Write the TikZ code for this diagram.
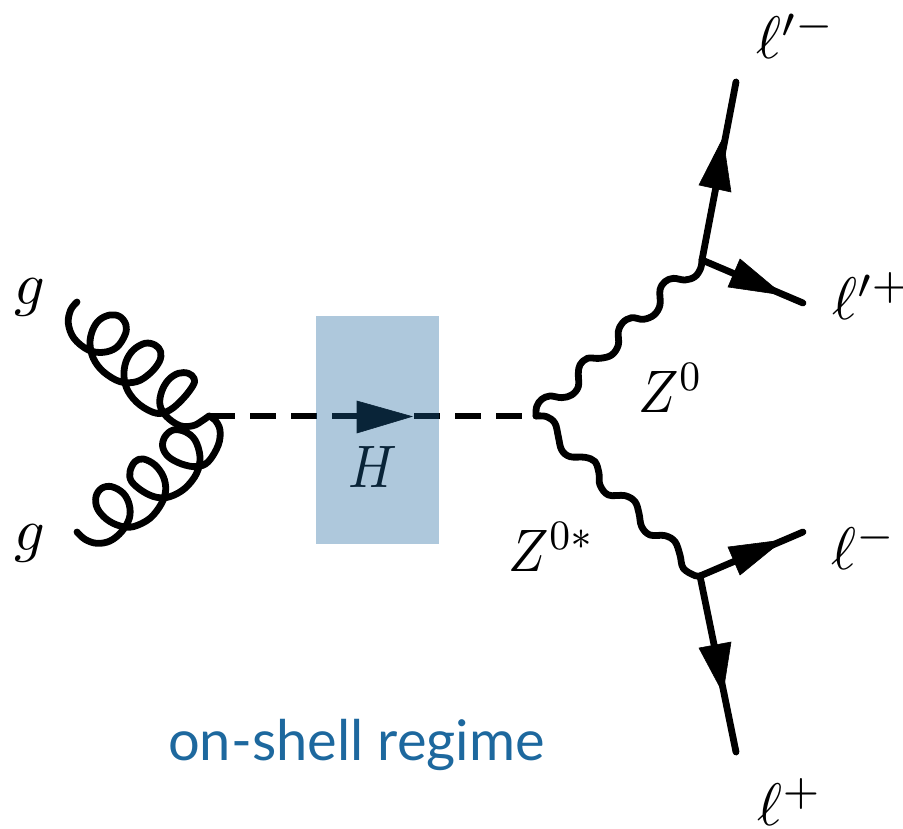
\documentclass[tikz,border=0pt]{standalone}
\usepackage{fontspec}
\newfontfamily\captionfont{Lato}
\definecolor{boxtint}{RGB}{28,101,158}
\definecolor{captionblue}{RGB}{29,104,158}
\tikzset{
  particle/.style={line width=6.8pt,black,line join=round},
  curly/.style={particle,line cap=round},
  fermion/.style={particle,line cap=round},
  scalar/.style={particle,dash pattern=on 26pt off 15pt},
  headfill/.style={fill=black,draw=black,line width=0.6pt,line join=miter},
  label/.style={inner sep=0pt,xscale=6,yscale=6},
  zlabel/.style={inner sep=0pt,xscale=5.35,yscale=6},
}
\begin{document}
\begin{tikzpicture}[x=1pt,y=-1pt]
\useasboundingbox (0,0) rectangle (903,828);
% vertices and free ends
\coordinate (gs) at (209,416);
\coordinate (hv) at (536,416);
\coordinate (zu) at (702,260);
\coordinate (zd) at (700,576);
\coordinate (gu) at (77,302);
\coordinate (gd) at (77,532);
\coordinate (lua) at (736,82);
\coordinate (lub) at (803,303);
\coordinate (lda) at (803,532);
\coordinate (ldb) at (736,752);
% gluons (coordinates: threefold zoom of the region)
\begin{scope}[x=0.3333pt,y=-0.3333pt,shift={(0pt,-260pt)}]
\draw[curly] plot[smooth,tension=0.6] coordinates {(gu) (212,150) (205,190) (222,235) (265,270) (310,277) (350,262) (375,225) (378,195) (360,170) (330,165) (298,180) (278,210) (270,250) (280,295) (310,335) (360,365) (410,365) (450,340) (478,305) (482,275) (465,255) (435,250) (400,270) (378,305) (372,350) (385,395) (420,435) (470,460) (510,450) (550,415) (580,375) (582,355) (565,340) (535,340) (505,360) (485,395) (480,435) (500,470) (540,497) (580,497) (610,480) (gs)};
\draw[curly] plot[smooth,tension=0.6] coordinates {(gd) (255,838) (290,850) (330,843) (365,815) (388,775) (388,735) (370,700) (335,680) (305,685) (288,710) (292,745) (320,778) (360,798) (400,800) (450,775) (485,730) (497,690) (490,650) (465,615) (430,597) (405,605) (390,635) (395,665) (430,695) (470,712) (510,710) (555,685) (590,640) (600,590) (585,540) (555,515) (520,510) (495,530) (488,560) (505,590) (545,612) (590,620) (625,605) (655,555) (660,510) (645,480) (gs)};
\end{scope}
% scalar
\draw[scalar] (gs) -- (hv);
% Z bosons
\begin{scope}[x=0.3333pt,y=-0.3333pt,shift={(500pt,-230pt)}]
\draw[curly] plot[smooth,tension=0.6] coordinates {(hv) (110,530) (125,508) (150,498) (185,503) (215,495) (235,470) (235,430) (240,405) (262,385) (300,385) (335,375) (355,345) (355,305) (368,278) (395,263) (430,268) (462,255) (480,225) (480,180) (495,155) (520,145) (555,150) (585,140) (602,115) (zu)};
\draw[curly] plot[smooth,tension=0.6] coordinates {(hv) (140,560) (165,580) (175,620) (185,660) (210,680) (255,682) (285,695) (297,730) (300,765) (325,795) (375,797) (405,815) (417,850) (425,890) (450,915) (495,917) (525,935) (540,975) (550,1015) (585,1037) (zd)};
\end{scope}
% leptons
\draw[fermion] (zu) -- (lua);
\draw[fermion] (zu) -- (lub);
\draw[fermion] (zd) -- (lda);
\draw[fermion] (zd) -- (ldb);
\fill[headfill] (723,138) -- (699,185) -- (731,192) -- cycle;
\fill[headfill] (783,295) -- (740,259) -- (728,287) -- cycle;
\fill[headfill] (783,540) -- (728,547) -- (740,575) -- cycle;
\fill[headfill] (723,693) -- (699,648) -- (731,642) -- cycle;
\fill[headfill] (412,416.5) -- (357,401) -- (357,433) -- cycle;
% labels
\node[label] (lg1) at (30,297) {$g$};
\node[label] (lg2) at (30,543) {$g$};
\node[zlabel] (lH) at (373,467) {$H$};
\node[zlabel] (lZa) at (671,388) {$Z^0$};
\node[zlabel] (lZb) at (552,547) {$Z^{0*}$};
\node[label] (l1) at (796,35) {$\ell'^-$};
\node[label] (l2) at (872,296) {$\ell'^+$};
\node[label] (l3) at (864,546) {$\ell^-$};
\node[label] (l4) at (790,802) {$\ell^+$};
% tinted band lying over the scalar line
\fill[boxtint,fill opacity=0.355] (316,316) rectangle (439,544);
\node[inner sep=0pt,anchor=base west,text=captionblue,font=\captionfont\fontsize{56}{60}\selectfont] (cap) at (168,760) {on-shell regime};
\end{tikzpicture}
\end{document}
